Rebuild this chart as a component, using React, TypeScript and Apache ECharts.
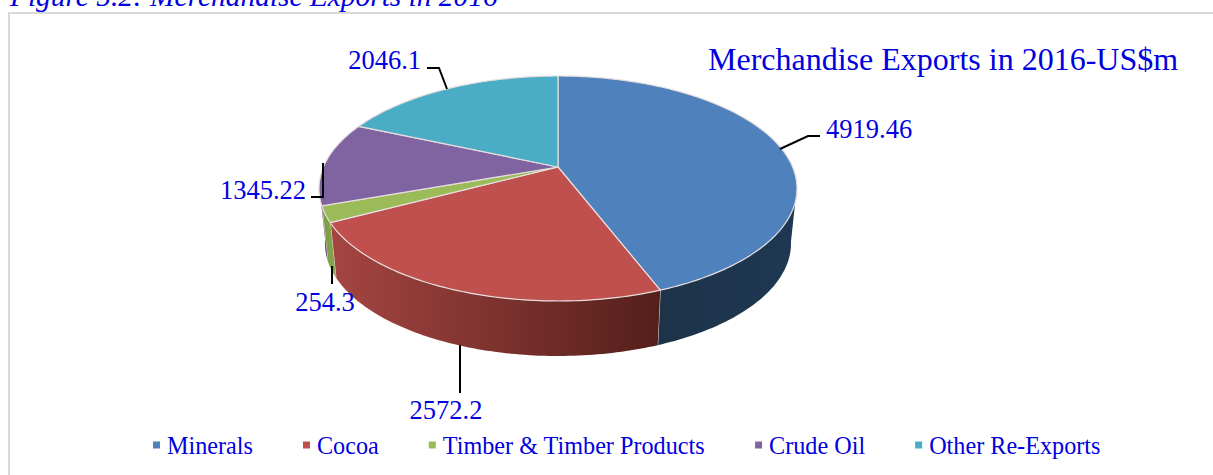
import React, { useEffect, useRef } from "react";
import * as echarts from "echarts";

const categories = ["Minerals", "Cocoa", "Timber & Timber Products", "Crude Oil", "Other Re-Exports"];
const values = [4919.46, 2572.2, 254.3, 1345.22, 2046.1];
const topColors = ["#4f81bd", "#c0504d", "#9bbb59", "#8064a2", "#4bacc6"];
const chartTitle = "Merchandise Exports in 2016-US$m";
const caption = "Figure 5.2: Merchandise Exports in 2016";
const BLUE = "#0000e0";
const FONT = '"Liberation Serif", "Times New Roman", serif';

// leader-line layout per category
const leaders: number[][][] = [
  [[780, 149], [808, 136], [820, 136]],
  [[460, 345], [460, 393]],
  [[332, 266], [332, 284]],
  [[323, 163], [323, 197], [311, 197]],
  [[447, 89], [439, 68], [427, 68]],
];
const labelPos: number[][] = [[826, 129], [446, 410], [325, 302], [306, 190], [421, 60]];
const labelAlign = ["left", "center", "center", "right", "right"];

// side wall gradient, left colour then right colour
const sideStops: string[][] = [
  ["#1c3349", "#1f3853"],
  ["#a54542", "#541f1a"],
  ["#7a9a42", "#86a84b"],
  ["#5f4a7c", "#5f4a7c"],
  ["#377f93", "#377f93"],
];

// projective view of the pie disc
const CX = 558, APEX = 167, TILT = -0.191, YSLOPE = 76.5, XK = 234.6, DEPTH = 55, SHRINK = 0.975;
const VIS_FROM = 100, VIS_TO = 261;

const rim = (deg: number, bottom = false): number[] => {
  const r = (deg * Math.PI) / 180;
  const u = Math.sin(r), v = -Math.cos(r);
  const d = 1 + TILT * v;
  const x = (XK * u) / d, y = (YSLOPE * v + APEX) / d;
  return bottom ? [CX + x * SHRINK, y + DEPTH] : [CX + x, y];
};
const total = values.reduce((a, b) => a + b, 0);
const startOf = (i: number) => (values.slice(0, i).reduce((a, b) => a + b, 0) / total) * 360;

const arc = (a: number, b: number, bottom = false): number[][] => {
  const pts: number[][] = [];
  const n = Math.max(2, Math.ceil(Math.abs(b - a)));
  for (let k = 0; k <= n; k++) pts.push(rim(a + ((b - a) * k) / n, bottom));
  return pts;
};

const makeRender = (i: number) => (_p: any, api: any) => {
  const value = api.value(0) as number;
  const a = startOf(i), b = a + (value / total) * 360;
  const children: any[] = [];
  const s = Math.max(a, VIS_FROM), e = Math.min(b, VIS_TO);
  if (e > s) {
    children.push({
      type: "polygon",
      shape: { points: [...arc(s, e), ...arc(e, s, true)] },
      style: {
        fill: new echarts.graphic.LinearGradient(0, 0, 1, 0, [
          { offset: 0, color: sideStops[i][0] },
          { offset: 1, color: sideStops[i][1] },
        ]),
      },
    });
    if (b < VIS_TO) {
      children.push({
        type: "line",
        shape: { x1: rim(b)[0], y1: rim(b)[1], x2: rim(b, true)[0], y2: rim(b, true)[1] },
        style: { stroke: "#ead8d4", lineWidth: 1 },
      });
    }
  }
  children.push({
    type: "polygon",
    shape: { points: [[CX, APEX], ...arc(a, b)] },
    style: { fill: topColors[i], stroke: "#e6dedd", lineWidth: 1.2, lineJoin: "round" },
  });
  children.push({
    type: "polyline",
    z2: 10,
    shape: { points: leaders[i] },
    style: { stroke: "#000", lineWidth: 2, fill: "none" },
  });
  children.push({
    type: "text",
    z2: 10,
    x: labelPos[i][0],
    y: labelPos[i][1],
    style: {
      text: String(value),
      fill: BLUE,
      font: `26.5px ${FONT}`,
      align: labelAlign[i],
      verticalAlign: "middle",
    },
  });
  return { type: "group", children };
};

export default function App() {
  const ref = useRef<HTMLDivElement>(null);
  useEffect(() => {
    const chart = echarts.init(ref.current!, null, { renderer: "svg" });
    chart.setOption({
      animation: false,
      backgroundColor: "#fff",
      legend: {
        data: categories,
        left: 148,
        top: 428,
        icon: "rect",
        itemWidth: 7,
        itemHeight: 7,
        itemGap: 50,
        textStyle: { color: BLUE, fontFamily: FONT, fontSize: 24.2, padding: [0, 0, 0, 2] },
      },
      graphic: [
        {
          type: "rect",
          silent: true,
          shape: { x: 9, y: 13, width: 1260, height: 500 },
          style: { fill: "none", stroke: "#d9d9d9", lineWidth: 2 },
        },
        {
          type: "text",
          x: 10,
          y: -4,
          style: { text: caption, fill: BLUE, font: `italic 29.4px ${FONT}`, verticalAlign: "middle" },
        },
        {
          type: "text",
          x: 708,
          y: 59,
          style: { text: chartTitle, fill: BLUE, font: `32px ${FONT}`, verticalAlign: "middle" },
        },
      ],
      series: categories.map((name, i) => ({
        type: "custom",
        name,
        coordinateSystem: "none",
        itemStyle: { color: topColors[i] },
        renderItem: makeRender(i),
        data: [[values[i]]],
      })),
    });
    return () => chart.dispose();
  }, []);
  return <div ref={ref} style={{ position: "absolute", left: 0, top: 0, width: 1213, height: 475 }} />;
}
